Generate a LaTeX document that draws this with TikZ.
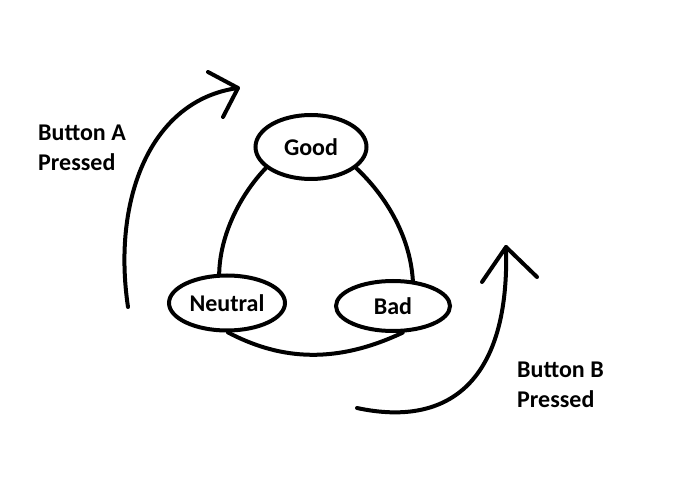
\documentclass[tikz,border=0pt]{standalone}
\usepackage{fontspec}
\setmainfont{Carlito}
\usetikzlibrary{shapes.geometric}
\begin{document}
\begin{tikzpicture}[x=1pt,y=-1pt,
  stroke/.style={line width=4pt,line cap=round,line join=round},
  state/.style={ellipse,draw,line width=4pt,inner sep=0pt,font=\bfseries\fontsize{24}{30}\selectfont},
  lbl/.style={font=\bfseries\fontsize{24}{30}\selectfont,align=left,inner sep=0pt,anchor=base west}]
\useasboundingbox[fill=white] (0,0) rectangle (693,486);
\node[state,minimum width=111pt,minimum height=64pt] (good) at (311,147) {Good};
\node[state,minimum width=116pt,minimum height=55pt] (neutral) at (227,303) {Neutral};
\node[state,minimum width=114pt,minimum height=50pt] (bad) at (393,306) {Bad};
\draw[stroke] (good.205) .. controls (240,195) and (220,235) .. (neutral.105);
\draw[stroke] (good.-25) .. controls (385,195) and (410,235) .. (bad.52);
\draw[stroke] (neutral.272) .. controls (275,357) and (330,367) .. (bad.-70);
\coordinate (a0) at (128,307);
\coordinate (atip) at (238,88);
\coordinate (a1) at (208,72);
\coordinate (a2) at (223,117);
\draw[stroke] (a0) .. controls (112,200) and (150,100) .. (atip);
\draw[stroke] (a1) -- (atip) -- (a2);
\coordinate (b0) at (357,408);
\coordinate (btip) at (506,247);
\coordinate (b1) at (482,282);
\coordinate (b2) at (537,277);
\draw[stroke] (b0) .. controls (450,428) and (510,380) .. (btip);
\draw[stroke] (b1) -- (btip) -- (b2);
\node[lbl] (la) at (38,171) {Button A\\Pressed};
\node[lbl] (lb) at (517,407) {Button B\\Pressed};
\end{tikzpicture}
\end{document}
